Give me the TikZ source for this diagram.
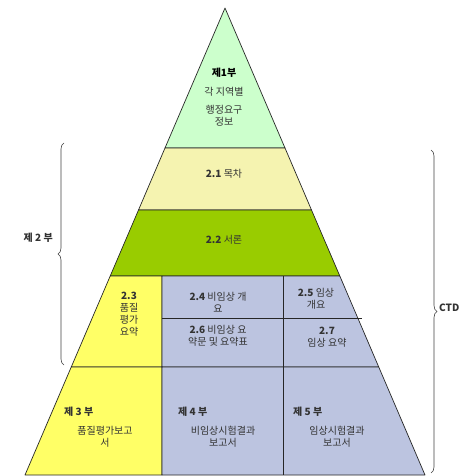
\documentclass[tikz,border=0pt]{standalone}
\usepackage{fontspec}
\setmainfont{Noto Sans CJK KR}
\usetikzlibrary{decorations.pathreplacing}
\definecolor{cTop}{HTML}{CCFFCC}
\definecolor{cToc}{HTML}{F5F3B0}
\definecolor{cIntro}{HTML}{99CC00}
\definecolor{cYel}{HTML}{FFFF66}
\definecolor{cBlue}{HTML}{BCC4E0}
\definecolor{cTxt}{HTML}{333333}
\tikzset{
  band/.style={draw=black!85, line width=0.7pt, line join=round},
  lbl/.style={text=cTxt, font=\fontsize{10}{13}\selectfont, align=center, inner sep=0pt},
  brc/.style={draw=black!75, line width=0.6pt, decorate, decoration={brace, amplitude=6pt}}
}
\begin{document}
\begin{tikzpicture}[x=1pt, y=-1pt]
\useasboundingbox (0,0) rectangle (470,476);
% key coordinates
\coordinate (A) at (225,8);
\coordinate (L1) at (165.0,148); \coordinate (R1) at (285.0,148);
\coordinate (L2) at (138.5,210); \coordinate (R2) at (311.5,210);
\coordinate (L3) at (110.2,276); \coordinate (R3) at (339.8,276);
\coordinate (L4) at (71.25,367); \coordinate (R4) at (378.75,367);
\coordinate (L5) at (25,475);   \coordinate (R5) at (425,475);
% bands
\path[band, fill=cTop] (A) -- (R1) -- (L1) -- cycle;
\path[band, fill=cToc] (L1) -- (R1) -- (R2) -- (L2) -- cycle;
\path[band, fill=cIntro] (L2) -- (R2) -- (R3) -- (L3) -- cycle;
\path[band, fill=cYel] (L3) -- (162,276) -- (162,367) -- (L4) -- cycle;
\path[band, fill=cBlue] (162,276) -- (R3) -- (R4) -- (162,367) -- cycle;
\draw[band] (283,276) -- (283,367);
\draw[band] (162,318) -- (361.5,318);
\path[band, fill=cYel] (L4) -- (162,367) -- (162,475) -- (L5) -- cycle;
\path[band, fill=cBlue] (162,367) -- (R4) -- (R5) -- (162,475) -- cycle;
\draw[band] (283,367) -- (283,475);
% texts
\node[lbl] (p1) at (224,73) {\textbf{\color{black}제1부}};
\node[lbl] (p1a) at (224,92) {각 지역별};
\node[lbl] (p1b) at (224,116) {행정요구\\[-1pt]정보};
\node[lbl] (s21) at (224,174) {\textbf{2.1} 목차};
\node[lbl] (s22) at (224,240) {\textbf{2.2} 서론};
\node[lbl] (s23) at (129,314) {\textbf{2.3}\\[-1pt]품질\\[-1pt]평가\\[-1pt]요약};
\node[lbl] (s24) at (218,302) {\textbf{2.4} 비임상 개\\[-1pt]요};
\node[lbl] (s25) at (316,299) {\textbf{2.5} 임상\\[-1pt]개요};
\node[lbl] (s26) at (218,336) {\textbf{2.6} 비임상 요\\[-1pt]약문 및 요약표};
\node[lbl] (s27) at (327,337) {\textbf{2.7}\\[-1pt]임상 요약};
\node[lbl, anchor=west] (p3) at (64,412) {\textbf{제 3 부}};
\node[lbl] (p3t) at (105,437) {품질평가보고\\[-1pt]서};
\node[lbl, anchor=west] (p4) at (178,412) {\textbf{제 4 부}};
\node[lbl] (p4t) at (223,437) {비임상시험결과\\[-1pt]보고서};
\node[lbl, anchor=west] (p5) at (293,412) {\textbf{제 5 부}};
\node[lbl] (p5t) at (337,437) {임상시험결과\\[-1pt]보고서};
% braces
\coordinate (b1t) at (64,143); \coordinate (b1b) at (64,365);
\draw[brc] (b1b) -- (b1t);
\node[lbl, anchor=east] (p2) at (53,238) {\textbf{제 2 부}};
\coordinate (b2t) at (431,150); \coordinate (b2b) at (431,473);
\draw[brc] (b2t) -- (b2b);
\node[lbl, anchor=west] (ctd) at (439,308) {\textbf{CTD}};
\end{tikzpicture}
\end{document}
